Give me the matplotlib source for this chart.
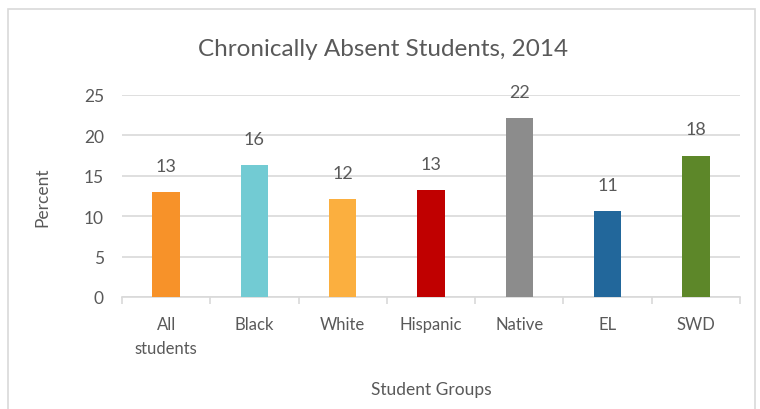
import numpy as np
import matplotlib.pyplot as plt
from matplotlib.patches import Rectangle

# データ
groups = ["All\nstudents", "Black", "White", "Hispanic", "Native", "EL", "SWD"]
percent = [13.0, 16.3, 12.1, 13.2, 22.1, 10.65, 17.5]
labels = ["13", "16", "12", "13", "22", "11", "18"]
colors = ["#F79229", "#72CBD3", "#FBAF3F", "#C00000", "#8C8C8C", "#22679B", "#5D8729"]

txt = "#595959"
grid = "#D9D9D9"
plt.rcParams['font.family'] = ['Lato', 'DejaVu Sans']

fig = plt.figure(figsize=(7.6, 4.1), dpi=100)
# 外枠
fig.patches.append(Rectangle((8/760, -0.05), 747/760, 1.05 - 10/410,
                             transform=fig.transFigure, fill=False,
                             edgecolor=grid, linewidth=1.2))

ax = fig.add_axes([122/760, 1 - 298/410, 618/760, 202/410])
x = np.arange(len(groups))
ax.bar(x, percent, width=0.31, color=colors, zorder=3)

for xi, v, lab in zip(x, percent, labels):
    ax.annotate(lab, (xi, v), xytext=(0, 19), textcoords="offset points",
                ha="center", va="center", fontsize=13, color=txt)

ax.set_xlim(-0.5, len(groups) - 0.5)
ax.set_ylim(0, 25)
ax.set_yticks([0, 5, 10, 15, 20, 25])
ax.yaxis.grid(True, color=grid, linewidth=1.2, zorder=0)
ax.tick_params(axis='y', length=0, labelsize=12.5, colors=txt, pad=13)

ax.set_xticks(x)
ax.set_xticklabels(groups, fontsize=12, color=txt, linespacing=1.6)
ax.set_xticks(np.arange(len(groups) + 1) - 0.5, minor=True)
ax.tick_params(axis='x', which='major', length=0, pad=14)
ax.tick_params(axis='x', which='minor', length=5, color=grid, width=1.2)

for s in ["top", "right", "left"]:
    ax.spines[s].set_visible(False)
ax.spines["bottom"].set_color(grid)
ax.spines["bottom"].set_linewidth(1.2)

ax.set_ylabel("Percent", fontsize=12.5, color=txt, labelpad=24)
ax.set_xlabel("Student Groups", fontsize=12.5, color=txt, labelpad=18)
fig.text(383/760, 1 - 50/410, "Chronically Absent Students, 2014",
         ha="center", va="center", fontsize=17.5, color=txt)

fig.savefig("out.png", dpi=100)
